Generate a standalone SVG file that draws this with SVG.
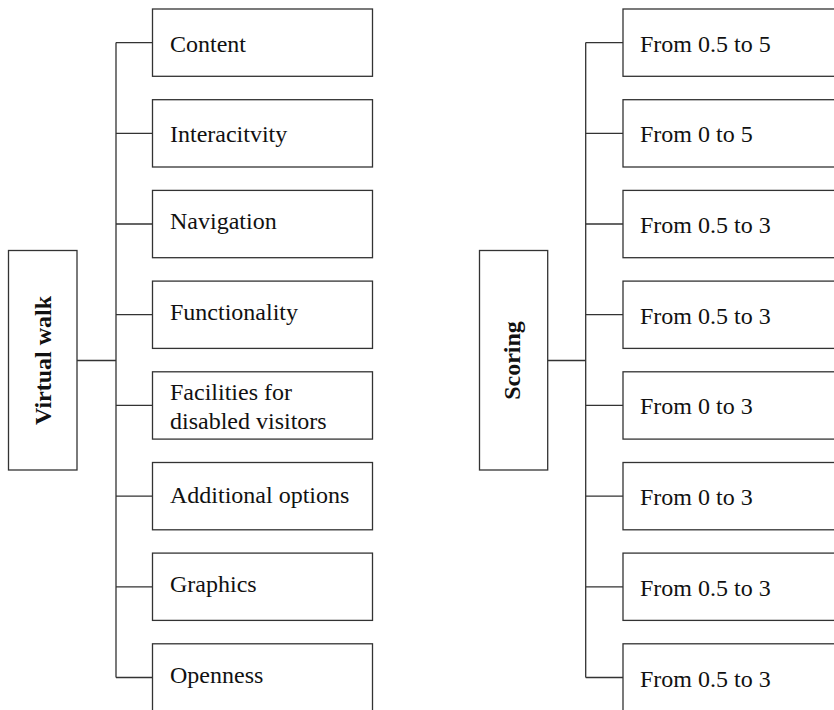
<svg xmlns="http://www.w3.org/2000/svg" width="834" height="710" viewBox="0 0 834 710">
<style>
.box{fill:#fff;stroke:#333;stroke-width:1.3}
.ln{fill:none;stroke:#333;stroke-width:1.3}
.t{font-family:"Liberation Serif","Times New Roman",serif;font-size:24px;fill:#111}
.r{font-family:"Liberation Serif","Times New Roman",serif;font-size:24px;font-weight:bold;fill:#111}
</style>
<rect width="834" height="710" fill="#fff"/>
<g id="connectors">
<path class="ln" d="M77 360.5H116M116 42.6V677.5M116 42.6H152.5M116 133.3H152.5M116 224H152.5M116 314.7H152.5M116 405.4H152.5M116 496.1H152.5M116 586.8H152.5M116 677.5H152.5"/>
<path class="ln" d="M547.7 360.5H585.7M585.7 42.6V677.5M585.7 42.6H623M585.7 133.3H623M585.7 224H623M585.7 314.7H623M585.7 405.4H623M585.7 496.1H623M585.7 586.8H623M585.7 677.5H623"/>
</g>
<g id="root-left"><rect class="box" x="8.5" y="250.5" width="68.5" height="219.5"/><text class="r" transform="translate(50.5,360.5) rotate(-90)" text-anchor="middle">Virtual walk</text></g>
<g id="n-content"><rect class="box" x="152.5" y="9" width="220" height="67.3"/><text class="t" x="170" y="51.5">Content</text></g>
<g id="n-interactivity"><rect class="box" x="152.5" y="99.7" width="220" height="67.3"/><text class="t" x="170" y="142">Interacitvity</text></g>
<g id="n-navigation"><rect class="box" x="152.5" y="190.4" width="220" height="67.3"/><text class="t" x="170" y="229">Navigation</text></g>
<g id="n-functionality"><rect class="box" x="152.5" y="281.1" width="220" height="67.3"/><text class="t" x="170" y="320">Functionality</text></g>
<g id="n-facilities"><rect class="box" x="152.5" y="371.8" width="220" height="67.3"/><text class="t" x="170" y="400">Facilities for</text><text class="t" x="170" y="428.5">disabled visitors</text></g>
<g id="n-additional"><rect class="box" x="152.5" y="462.5" width="220" height="67.3"/><text class="t" x="170" y="503">Additional options</text></g>
<g id="n-graphics"><rect class="box" x="152.5" y="553.1" width="220" height="67.3"/><text class="t" x="170" y="592">Graphics</text></g>
<g id="n-openness"><rect class="box" x="152.5" y="643.8" width="220" height="80"/><text class="t" x="170" y="683">Openness</text></g>
<g id="root-right"><rect class="box" x="479.5" y="250.5" width="68.2" height="219.5"/><text class="r" transform="translate(520,360.5) rotate(-90)" text-anchor="middle">Scoring</text></g>
<g id="s1"><rect class="box" x="623" y="9" width="230" height="67.3"/><text class="t" x="640" y="51.5">From 0.5 to 5</text></g>
<g id="s2"><rect class="box" x="623" y="99.7" width="230" height="67.3"/><text class="t" x="640" y="142">From 0 to 5</text></g>
<g id="s3"><rect class="box" x="623" y="190.4" width="230" height="67.3"/><text class="t" x="640" y="233">From 0.5 to 3</text></g>
<g id="s4"><rect class="box" x="623" y="281.1" width="230" height="67.3"/><text class="t" x="640" y="323.5">From 0.5 to 3</text></g>
<g id="s5"><rect class="box" x="623" y="371.8" width="230" height="67.3"/><text class="t" x="640" y="414">From 0 to 3</text></g>
<g id="s6"><rect class="box" x="623" y="462.5" width="230" height="67.3"/><text class="t" x="640" y="505">From 0 to 3</text></g>
<g id="s7"><rect class="box" x="623" y="553.1" width="230" height="67.3"/><text class="t" x="640" y="596">From 0.5 to 3</text></g>
<g id="s8"><rect class="box" x="623" y="643.8" width="230" height="80"/><text class="t" x="640" y="686.5">From 0.5 to 3</text></g>
</svg>
